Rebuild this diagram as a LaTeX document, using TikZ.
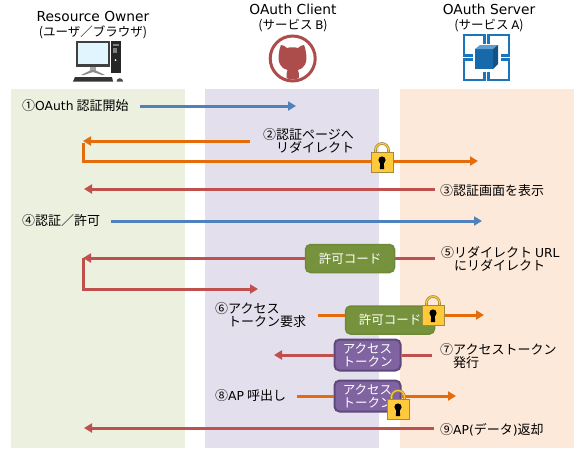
\documentclass[tikz,border=0pt]{standalone}
\usepackage{fontspec}
\setmainfont{Noto Sans CJK JP}
\newfontfamily\latinfont[Scale=0.95]{DejaVu Sans}
\usetikzlibrary{arrows.meta}
\definecolor{lanegreen}{HTML}{EBF0DF}
\definecolor{lanepurple}{HTML}{E4DFEC}
\definecolor{lanepeach}{HTML}{FDE9D9}
\definecolor{flowblue}{HTML}{4F81BD}
\definecolor{floworange}{HTML}{E46C0A}
\definecolor{flowred}{HTML}{C0504D}
\definecolor{tokengreen}{HTML}{76923C}
\definecolor{tokengreenedge}{HTML}{6E8A38}
\definecolor{tokenpurple}{HTML}{8064A2}
\definecolor{tokenpurpleedge}{HTML}{5F497A}
\definecolor{azureblue}{HTML}{1B75BC}
\definecolor{catred}{HTML}{AD4D4B}
\definecolor{lockgold}{HTML}{FFC93C}
\definecolor{lockedge}{HTML}{A08A3C}
\newcommand{\lat}[1]{{\latinfont #1}}
\newcommand{\headlat}[1]{{\latinfont\fontsize{14.5}{15}\selectfont #1}}
\tikzset{
  lane/.style={minimum width=174pt,minimum height=359pt,inner sep=0pt},
  flowline/.style={line width=3pt,-{Triangle[length=8pt,width=9pt]}},
  plainline/.style={line width=3pt},
  caption/.style={anchor=west,inner sep=0pt,align=left,font=\fontsize{13}{13.6}\selectfont},
  header/.style={align=center,inner sep=0pt,font=\fontsize{12.5}{14.5}\selectfont},
  codetoken/.style={fill=tokengreen,draw=tokengreenedge,line width=1.5pt,rounded corners=5pt,
    minimum width=89pt,minimum height=28pt,inner sep=0pt,text=white,font=\fontsize{12.5}{13}\selectfont},
  accesstoken/.style={fill=tokenpurple,draw=tokenpurpleedge,line width=2pt,rounded corners=5pt,
    minimum width=66pt,minimum height=31pt,inner sep=0pt,text=white,align=center,font=\fontsize{12.5}{13}\selectfont},
  pics/padlock/.style={code={
    \draw[line width=2.6pt,draw=lockedge] (-6.5,-8) -- (-6.5,-12) arc (180:360:6.5) -- (6.5,-8);
    \draw[line width=1.2pt,draw=lockgold] (-6.5,-8) -- (-6.5,-12) arc (180:360:6.5) -- (6.5,-8);
    \draw[fill=lockgold,draw=lockedge,line width=.8pt] (-11,-10) rectangle (11,10);
    \fill (0,-2) circle (3.6);
    \fill (-1.6,-1) -- (1.6,-1) -- (2.2,7) -- (-2.2,7) -- cycle;
  }}
}
\begin{document}
\begin{tikzpicture}[x=1pt,y=-1pt]
  \useasboundingbox (0,0) rectangle (583,456);
  \node[lane,fill=lanegreen]  (owner)  at (98,268.5) {};
  \node[lane,fill=lanepurple] (client) at (292,268.5) {};
  \node[lane,fill=lanepeach]  (server) at (487,268.5) {};

  \node[header] (ownerhead)  at (93,25)  {\headlat{Resource Owner}\\(ユーザ／ブラウザ)};
  \node[header] (clienthead) at (293,18) {\headlat{OAuth Client}\\(サービス \lat{B})};
  \node[header] (serverhead) at (489,18) {\headlat{OAuth Server}\\(サービス \lat{A})};

  % computer
  \fill[black!75] (76,41) rectangle (110,67);
  \fill[cyan!12!white] (78,43) rectangle (108,64);
  \fill[black!35] (90,67) rectangle (96,71);
  \fill[black!45] (81,75) -- (91,70) -- (95,70) -- (105,75) -- (102,75) -- (93,72) -- (84,75) -- cycle;
  \fill[black!85] (111,41) rectangle (121,73);
  \fill[white] (115.5,60) circle (1);
  \fill[black!50] (113,44) rectangle (119,46);
  \fill[black!50] (113,48) rectangle (117,53);
  \fill[black!80] (75,77) -- (112,77) -- (113,81.5) -- (73,81.5) -- cycle;
  \fill[black!70] (116.5,81.5) arc (180:360:3.3) -- cycle;

  % cat
  \draw[catred,line width=3pt] (292.7,58.5) circle (22.5);
  \fill[catred] (281,45) .. controls (283,45) and (285,46) .. (287,48)
    .. controls (290,47) and (295,47) .. (298,48) .. controls (300,46) and (302,45) .. (304,45)
    .. controls (305,48) and (306,50) .. (306,53) .. controls (308,62) and (304,69) .. (298,70)
    .. controls (299,72) and (299,75) .. (299,78) .. controls (295,80) and (290,80) .. (286.5,78)
    .. controls (286.5,75) and (286.5,72) .. (287.5,70) .. controls (281,69) and (277,62) .. (279,53)
    .. controls (279,50) and (280,48) .. (281,45) -- cycle;

  % cube
  \foreach \sx/\sy in {1/1,-1/1,1/-1,-1/-1}
    \draw[azureblue,line width=2.5pt,shift={(486.5,57.5)},xscale=\sx,yscale=\sy]
      (2,-14) -- (2,-22.5) -- (22.5,-22.5) -- (22.5,-2) -- (14,-2);
  \fill[azureblue!90!black] (475,49) rectangle (493,69);
  \fill[azureblue!70!white] (475,49) -- (480,45) -- (498,45) -- (493,49) -- cycle;
  \fill[azureblue!70!black] (493,49) -- (498,45) -- (498,64) -- (493,69) -- cycle;

  \coordinate (startone) at (140,106);
  \coordinate (endone) at (296,106);
  \coordinate (starttwo) at (250,141);
  \coordinate (endtwo) at (83,141);
  \coordinate (cornertwo) at (83.5,143);
  \coordinate (farway) at (478,161);
  \coordinate (startthree) at (435,189);
  \coordinate (endthree) at (84,189);
  \coordinate (startfour) at (111,221);
  \coordinate (endfour) at (482,221);
  \coordinate (startfive) at (435,258);
  \coordinate (endfive) at (83,258);
  \coordinate (cornerfive) at (83.5,258);
  \coordinate (backfive) at (258,289);
  \coordinate (startsix) at (318,315);
  \coordinate (endsix) at (484,315);
  \coordinate (startseven) at (432,355);
  \coordinate (endseven) at (274,355);
  \coordinate (starteight) at (297,396);
  \coordinate (endeight) at (456,396);
  \coordinate (startnine) at (434,428);
  \coordinate (endnine) at (84,428);

  \node[codetoken] (codea) at (350,258.5) {許可コード};
  \node[codetoken] (codeb) at (390,320) {許可コード};
  \node[accesstoken] (tokena) at (367.5,355) {アクセス\\トークン};
  \node[accesstoken] (tokenb) at (367.5,396) {アクセス\\トークン};

  \draw[flowline,flowblue] (startone) -- (endone);
  \draw[flowline,floworange] (starttwo) -- (endtwo);
  \draw[flowline,floworange] (cornertwo) |- (farway);
  \draw[flowline,flowred] (startthree) -- (endthree);
  \draw[flowline,flowblue] (startfour) -- (endfour);
  \draw[plainline,flowred] (startfive) -- (codea.east |- startfive);
  \draw[flowline,flowred] (codea.west |- startfive) -- (endfive);
  \draw[flowline,flowred] (cornerfive) |- (backfive);
  \draw[plainline,floworange] (startsix) -- (codeb.west |- startsix);
  \draw[flowline,floworange] (codeb.east |- startsix) -- (endsix);
  \draw[plainline,flowred] (startseven) -- (tokena);
  \draw[flowline,flowred] (tokena) -- (endseven);
  \draw[plainline,floworange] (starteight) -- (tokenb);
  \draw[flowline,floworange] (tokenb) -- (endeight);
  \draw[flowline,flowred] (startnine) -- (endnine);

  \pic at (382,162) {padlock};
  \pic at (433,315) {padlock};
  \pic at (398,409) {padlock};

  \node[caption] (stepone)   at (22,106)  {①\lat{OAuth} 認証開始};
  \node[caption] (steptwo)   at (263,141) {②認証ページへ\\\hspace*{1em}リダイレクト};
  \node[caption] (stepthree) at (440,191) {③認証画面を表示};
  \node[caption] (stepfour)  at (22,221)  {④認証／許可};
  \node[caption] (stepfive)  at (441,259) {⑤リダイレクト \lat{URL}\\\hspace*{1em}にリダイレクト};
  \node[caption] (stepsix)   at (215,315) {⑥アクセス\\\hspace*{1em}トークン要求};
  \node[caption] (stepseven) at (440,356) {⑦アクセストークン\\\hspace*{1em}発行};
  \node[caption] (stepeight) at (215,396) {⑧\lat{AP} 呼出し};
  \node[caption] (stepnine)  at (440,430) {⑨\lat{AP(}データ\lat{)}返却};
\end{tikzpicture}
\end{document}
